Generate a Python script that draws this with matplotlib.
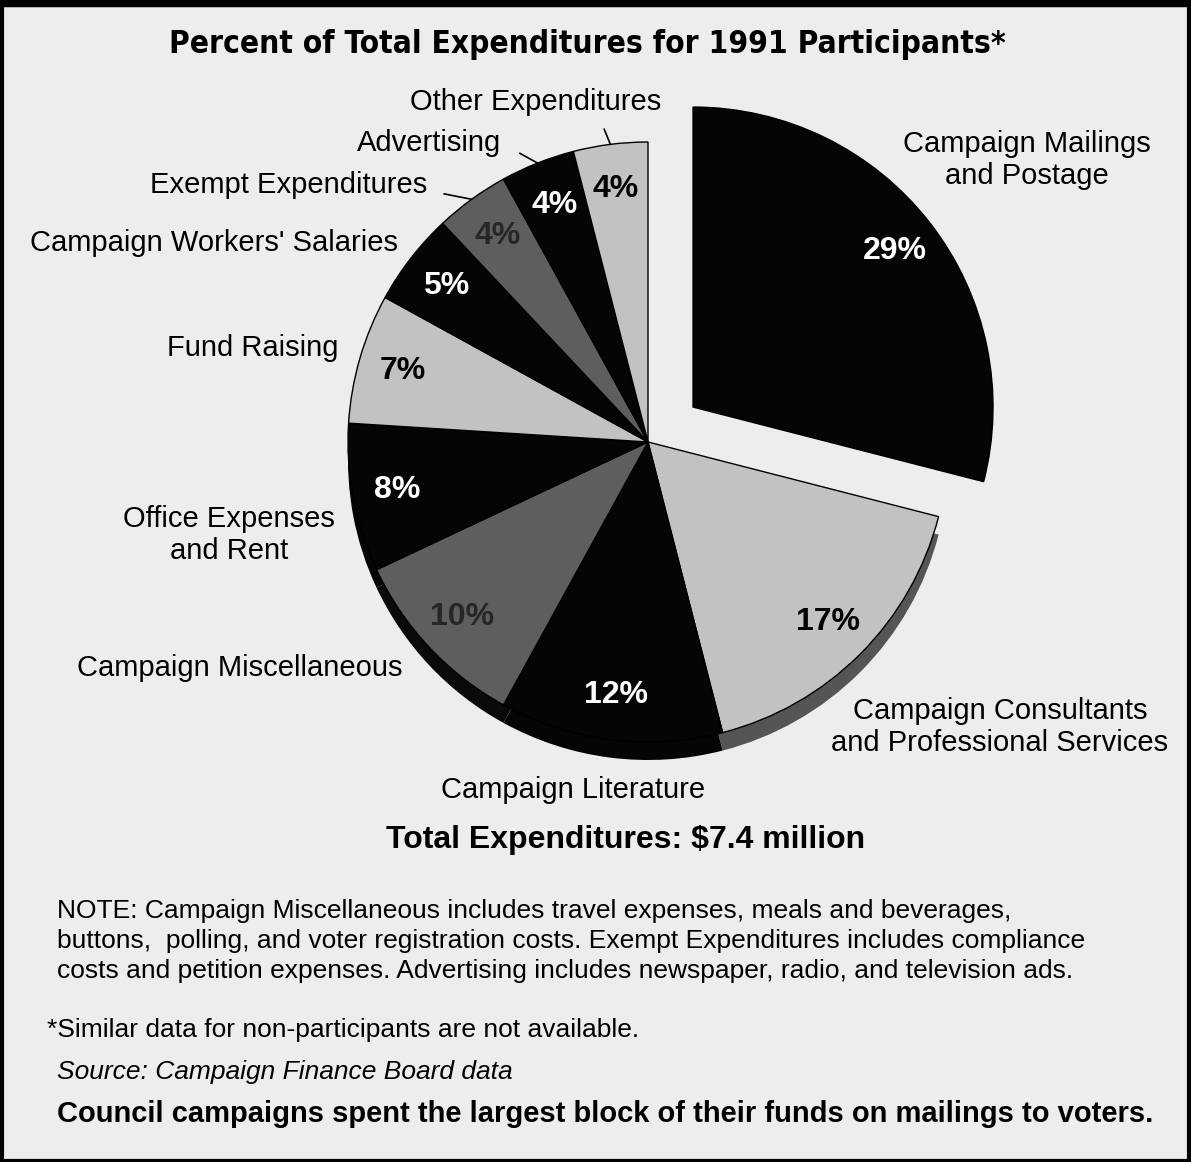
import matplotlib
matplotlib.use('Agg')
import matplotlib.pyplot as plt
import numpy as np

# ---------------- data ----------------
categories = [
    "Campaign Mailings\nand Postage",
    "Campaign Consultants\nand Professional Services",
    "Campaign Literature",
    "Campaign Miscellaneous",
    "Office Expenses\nand Rent",
    "Fund Raising",
    "Campaign Workers' Salaries",
    "Exempt Expenditures",
    "Advertising",
    "Other Expenditures",
]
percents = [29, 17, 12, 10, 8, 7, 5, 4, 4, 4]
shade_keys = ["black", "light", "black", "dark", "black",
              "light", "black", "dark", "black", "light"]

title = "Percent of Total Expenditures for 1991 Participants*"
total_text = "Total Expenditures: $7.4 million"
note_lines = [
    "NOTE: Campaign Miscellaneous includes travel expenses, meals and beverages,",
    "buttons,  polling, and voter registration costs. Exempt Expenditures includes compliance",
    "costs and petition expenses. Advertising includes newspaper, radio, and television ads.",
]
footnote = "*Similar data for non-participants are not available."
source = "Source: Campaign Finance Board data"
takeaway = "Council campaigns spent the largest block of their funds on mailings to voters."

# ---------------- style / layout ----------------
W, H = 1191, 1162
BG = "#ededed"
face = {"black": "#050505", "light": "#c2c2c2", "dark": "#5e5e5e"}
wall = {"black": "#050505", "light": "#555555", "dark": "#0a0a0a"}
pct_color = {"black": "white", "light": "black", "dark": "#262626"}

def Y(py):
    return H - py

cx, cy, R = 648, Y(442), 300
depth = 18
explode = [57] + [0] * (len(percents) - 1)   # offset in data units (pixels)

# label positions (pixel coords), leader flags
label_pos = [
    (1027, 160), (1000, 727), (573, 790), (240, 668), (229, 535),
    (253, 348), (214, 243), (289, 185), (429, 143), (536, 102),
]
leader = {7: dict(relpos=(1.0, 0.3), shrinkA=10),
          8: dict(relpos=(1.0, 0.5), shrinkA=13),
          9: dict(relpos=(0.75, 0.0), shrinkA=8)}

LBL_FONT = "Liberation Sans"

fig = plt.figure(figsize=(W / 100, H / 100), dpi=100)
fig.patch.set_facecolor(BG)
ax = fig.add_axes([0, 0, 1, 1])

# side wall (3-D depth); the exploded slice shows no wall
wall_colors = [wall[k] if e == 0 else "none" for k, e in zip(shade_keys, explode)]
ax.pie(percents, colors=wall_colors, startangle=90,
       counterclock=False, radius=R, center=(cx, cy - depth), explode=explode,
       wedgeprops=dict(linewidth=0))

# top face
wedges, _, autotexts = ax.pie(
    percents, colors=[face[k] for k in shade_keys], startangle=90,
    counterclock=False, radius=R, center=(cx, cy), explode=explode,
    autopct=lambda p: f"{p:.0f}%", pctdistance=0.85,
    wedgeprops=dict(linewidth=1.0, edgecolor="black"),
    textprops=dict(fontsize=23, fontweight="bold", family=LBL_FONT))
for t, k in zip(autotexts, shade_keys):
    t.set_color(pct_color[k])

ax.set_xlim(0, W)
ax.set_ylim(0, H)
ax.set_aspect("auto")
ax.axis("off")

# category labels
for i, (name, (px, py)) in enumerate(zip(categories, label_pos)):
    if i in leader:
        w = wedges[i]
        mid = np.deg2rad((w.theta1 + w.theta2) / 2)
        wx, wy = w.center
        xy = (wx + R * np.cos(mid), wy + R * np.sin(mid))
        ax.annotate(name, xy=xy, xytext=(px, Y(py)), ha="center", va="center",
                    fontsize=21, family=LBL_FONT, color="black",
                    arrowprops=dict(arrowstyle="-", color="black", lw=1.2,
                                    relpos=leader[i]["relpos"],
                                    shrinkA=leader[i]["shrinkA"], shrinkB=0))
    else:
        ax.text(px, Y(py), name, ha="center", va="center", fontsize=21,
                family=LBL_FONT, color="black", linespacing=1.15)

# title and texts
ax.text(587, Y(45), title, ha="center", va="center", fontsize=22.7,
        fontweight="bold", family="DejaVu Sans", fontstretch="condensed",
        color="black")
ax.text(626, Y(840), total_text, ha="center", va="center", fontsize=23,
        fontweight="bold", family=LBL_FONT)
for j, line in enumerate(note_lines):
    ax.text(57, Y(911 + 30 * j), line, ha="left", va="center", fontsize=19,
            family=LBL_FONT)
ax.text(47, Y(1030), footnote, ha="left", va="center", fontsize=19, family=LBL_FONT)
ax.text(57, Y(1072), source, ha="left", va="center", fontsize=19,
        family=LBL_FONT, style="italic")
ax.text(57, Y(1114), takeaway, ha="left", va="center", fontsize=21,
        fontweight="bold", family=LBL_FONT)

# frame
fig.add_artist(plt.Rectangle((0.0015, 0.001), 0.997, 0.995, transform=fig.transFigure,
                             fill=False, edgecolor="black", linewidth=3))
fig.add_artist(plt.Line2D([0, 1], [0.997, 0.997], transform=fig.transFigure,
                          color="black", linewidth=6))

fig.savefig("out.png", dpi=100, facecolor=BG)
